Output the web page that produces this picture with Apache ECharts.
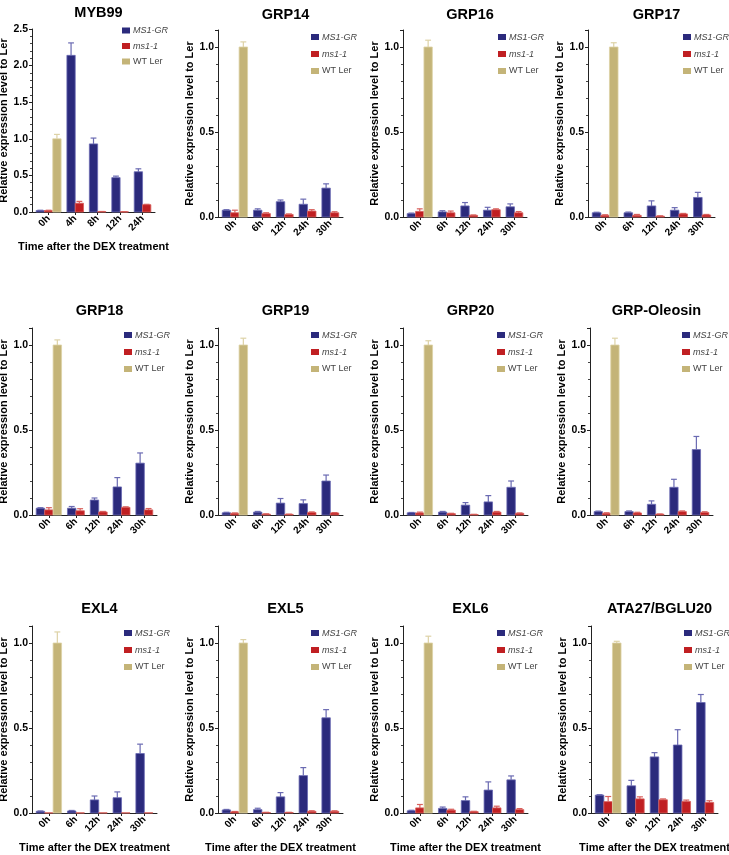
<!DOCTYPE html>
<html><head><meta charset="utf-8">
<script src="https://cdn.jsdelivr.net/npm/echarts@6/dist/echarts.min.js"></script>
<style>html,body{margin:0;padding:0;background:#fff}#c{width:729px;height:855px}</style>
</head><body><div id="c"></div>
<script>
// ---------------- DATA ----------------
const genes = ['MYB99','GRP14','GRP16','GRP17','GRP18','GRP19','GRP20','GRP-Oleosin','EXL4','EXL5','EXL6','ATA27/BGLU20'];
const timesMYB99 = ['0h','4h','8h','12h','24h'];
const timesOther = ['0h','6h','12h','24h','30h'];
const seriesNames = ['MS1-GR','ms1-1','WT Ler'];
const yTicksSmall = [0, 0.5, 1.0];
const yTicksMYB99 = [0, 0.5, 1.0, 1.5, 2.0, 2.5];

const MYB99_MS1GR    = [0.02, 2.14, 0.93, 0.47, 0.55];
const MYB99_MS1GR_sd = [0.004, 0.17, 0.08, 0.02, 0.04];
const MYB99_ms11     = [0.02, 0.12, 0.005, 0.003, 0.10];
const MYB99_ms11_sd  = [0.004, 0.025, 0.002, 0.001, 0.005];

const GRP14_MS1GR    = [0.04, 0.04, 0.09, 0.075, 0.17];
const GRP14_MS1GR_sd = [0.003, 0.008, 0.01, 0.03, 0.025];
const GRP14_ms11     = [0.025, 0.02, 0.015, 0.035, 0.025];
const GRP14_ms11_sd  = [0.015, 0.005, 0.003, 0.008, 0.006];

const GRP16_MS1GR    = [0.02, 0.03, 0.065, 0.04, 0.06];
const GRP16_MS1GR_sd = [0.003, 0.007, 0.02, 0.017, 0.017];
const GRP16_ms11     = [0.033, 0.025, 0.01, 0.043, 0.025];
const GRP16_ms11_sd  = [0.015, 0.01, 0.002, 0.005, 0.007];

const GRP17_MS1GR    = [0.025, 0.025, 0.065, 0.04, 0.115];
const GRP17_MS1GR_sd = [0.003, 0.004, 0.03, 0.015, 0.03];
const GRP17_ms11     = [0.01, 0.01, 0.005, 0.018, 0.012];
const GRP17_ms11_sd  = [0.003, 0.005, 0.002, 0.003, 0.003];

const GRP18_MS1GR    = [0.04, 0.04, 0.088, 0.165, 0.305];
const GRP18_MS1GR_sd = [0.003, 0.01, 0.012, 0.055, 0.06];
const GRP18_ms11     = [0.03, 0.025, 0.018, 0.045, 0.03];
const GRP18_ms11_sd  = [0.013, 0.012, 0.003, 0.003, 0.008];

const GRP19_MS1GR    = [0.013, 0.017, 0.07, 0.067, 0.2];
const GRP19_MS1GR_sd = [0.003, 0.004, 0.027, 0.022, 0.035];
const GRP19_ms11     = [0.01, 0.005, 0.004, 0.015, 0.012];
const GRP19_ms11_sd  = [0.002, 0.002, 0.001, 0.003, 0.002];

const GRP20_MS1GR    = [0.013, 0.017, 0.058, 0.077, 0.163];
const GRP20_MS1GR_sd = [0.002, 0.004, 0.015, 0.037, 0.037];
const GRP20_ms11     = [0.012, 0.008, 0.003, 0.017, 0.01];
const GRP20_ms11_sd  = [0.005, 0.002, 0.001, 0.004, 0.002];

const GRPOleosin_MS1GR    = [0.02, 0.02, 0.063, 0.163, 0.385];
const GRPOleosin_MS1GR_sd = [0.003, 0.004, 0.02, 0.047, 0.077];
const GRPOleosin_ms11     = [0.01, 0.012, 0.005, 0.02, 0.015];
const GRPOleosin_ms11_sd  = [0.003, 0.004, 0.001, 0.004, 0.004];

const EXL4_MS1GR    = [0.01, 0.012, 0.077, 0.09, 0.35];
const EXL4_MS1GR_sd = [0.002, 0.003, 0.023, 0.034, 0.055];
const EXL4_ms11     = [0.001, 0.001, 0.001, 0.001, 0.001];
const EXL4_ms11_sd  = [0, 0, 0, 0, 0];

const EXL5_MS1GR    = [0.018, 0.02, 0.095, 0.22, 0.56];
const EXL5_MS1GR_sd = [0.003, 0.008, 0.025, 0.047, 0.048];
const EXL5_ms11     = [0.007, 0.003, 0.003, 0.01, 0.01];
const EXL5_ms11_sd  = [0.002, 0.001, 0.001, 0.003, 0.003];

const EXL6_MS1GR    = [0.013, 0.027, 0.073, 0.135, 0.195];
const EXL6_MS1GR_sd = [0.003, 0.008, 0.022, 0.048, 0.023];
const EXL6_ms11     = [0.03, 0.017, 0.008, 0.03, 0.02];
const EXL6_ms11_sd  = [0.02, 0.005, 0.002, 0.01, 0.006];

const ATA27_MS1GR    = [0.105, 0.16, 0.33, 0.40, 0.65];
const ATA27_MS1GR_sd = [0.003, 0.032, 0.025, 0.09, 0.047];
const ATA27_ms11     = [0.067, 0.083, 0.078, 0.068, 0.062];
const ATA27_ms11_sd  = [0.03, 0.012, 0.005, 0.008, 0.01];

const WT_Ler    = [1.0, 1.0, 1.0, 1.0, 1.0, 1.0, 1.0, 1.0, 1.0, 1.0, 1.0, 1.0];
const WT_Ler_sd = [0.06, 0.03, 0.04, 0.025, 0.03, 0.04, 0.025, 0.04, 0.065, 0.02, 0.04, 0.01];

const geneData = [
  [MYB99_MS1GR, MYB99_MS1GR_sd, MYB99_ms11, MYB99_ms11_sd],
  [GRP14_MS1GR, GRP14_MS1GR_sd, GRP14_ms11, GRP14_ms11_sd],
  [GRP16_MS1GR, GRP16_MS1GR_sd, GRP16_ms11, GRP16_ms11_sd],
  [GRP17_MS1GR, GRP17_MS1GR_sd, GRP17_ms11, GRP17_ms11_sd],
  [GRP18_MS1GR, GRP18_MS1GR_sd, GRP18_ms11, GRP18_ms11_sd],
  [GRP19_MS1GR, GRP19_MS1GR_sd, GRP19_ms11, GRP19_ms11_sd],
  [GRP20_MS1GR, GRP20_MS1GR_sd, GRP20_ms11, GRP20_ms11_sd],
  [GRPOleosin_MS1GR, GRPOleosin_MS1GR_sd, GRPOleosin_ms11, GRPOleosin_ms11_sd],
  [EXL4_MS1GR, EXL4_MS1GR_sd, EXL4_ms11, EXL4_ms11_sd],
  [EXL5_MS1GR, EXL5_MS1GR_sd, EXL5_ms11, EXL5_ms11_sd],
  [EXL6_MS1GR, EXL6_MS1GR_sd, EXL6_ms11, EXL6_ms11_sd],
  [ATA27_MS1GR, ATA27_MS1GR_sd, ATA27_ms11, ATA27_ms11_sd]
];

// ---------------- LAYOUT / STYLE ----------------
const FONT = '"Liberation Sans", Arial, Helvetica, sans-serif';
const COLORS = ['#2b2a7c', '#c01f22', '#c4b478'];
const EDGE = ['#6a6ab2', '#d8605c', '#ddd2a6'];
// grid boxes [left, top, width, height]
const boxes = [
  [32, 29, 123, 183], [218, 30, 125, 187], [403, 30, 124, 187], [588, 30, 127, 187],
  [32, 328, 125, 187], [218, 328, 125, 187], [403, 328, 125, 187], [590, 328, 123, 187],
  [32, 626, 125, 187], [218, 626, 125, 187], [403, 626, 125, 187], [591, 626, 127, 187]
];
const titleTops = [0, 2, 2, 2, 298, 298, 298, 298, 596, 596, 596, 596];
const legendPos = [
  [117, 20, 4.5], [306, 26.5, 6], [493, 26.5, 6], [678, 26.5, 6],
  [119, 324.5, 6], [306, 324.5, 6], [492, 324.5, 6], [677, 324.5, 6],
  [119, 622.5, 6], [306, 622.5, 6], [492, 622.5, 6], [679, 622.5, 6]
];
const MARGIN = 0.5, GAP = 0.7;

function layoutUnits(nCats) {
  // first group has 3 bars (incl. WT Ler), others 2
  const sizes = [];
  for (let i = 0; i < nCats; i++) sizes.push(i === 0 ? 3 : 2);
  const starts = [];
  let s = MARGIN;
  sizes.forEach((n, i) => { starts.push(s); s += n + (i < nCats - 1 ? GAP : 0); });
  return { sizes, starts, total: s + MARGIN, centers: starts.map((st, i) => st + sizes[i] / 2) };
}

function renderBar(colorIdx) {
  return function (params, api) {
    const x = api.value(0), v = api.value(1), e = api.value(2);
    const p0 = api.coord([x - 0.5, 0]);
    const p1 = api.coord([x + 0.5, v]);
    const top = api.coord([x, v + e]);
    const cl = api.coord([x - 0.35, v + e]);
    const cr = api.coord([x + 0.35, v + e]);
    const children = [];
    if (e > 0) {
      children.push({ type: 'line', shape: { x1: top[0], y1: p1[1], x2: top[0], y2: top[1] },
        style: { stroke: EDGE[colorIdx], lineWidth: 1.2 } });
      children.push({ type: 'line', shape: { x1: cl[0], y1: top[1], x2: cr[0], y2: top[1] },
        style: { stroke: EDGE[colorIdx], lineWidth: 1.2 } });
    }
    children.push({ type: 'rect',
      shape: { x: p0[0], y: p1[1], width: p1[0] - p0[0], height: p0[1] - p1[1] },
      style: { fill: COLORS[colorIdx], stroke: EDGE[colorIdx], lineWidth: 0.8 } });
    return { type: 'group', children };
  };
}

const option = {
  animation: false,
  backgroundColor: '#fff',
  textStyle: { fontFamily: FONT },
  title: [], grid: [], xAxis: [], yAxis: [], legend: [], series: []
};

genes.forEach((gene, gi) => {
  const cats = gi === 0 ? timesMYB99 : timesOther;
  const L = layoutUnits(cats.length);
  const [left, top, width, height] = boxes[gi];
  const [d1, e1, d2, e2] = geneData[gi];
  const isMYB = gi === 0;
  const showXName = gi === 0 || gi >= 8;

  option.title.push({
    text: gene, left: left + width / 2, top: titleTops[gi], textAlign: 'center',
    textStyle: { fontFamily: FONT, fontWeight: 'bold', fontSize: 14.5, color: '#000' }
  });
  option.grid.push({ left, top, width, height, containLabel: false, outerBoundsMode: 'none' });

  const centerMap = {};
  L.centers.forEach((c, i) => { centerMap[c.toFixed(3)] = cats[i]; });

  option.xAxis.push({
    type: 'value', gridIndex: gi, min: 0, max: L.total,
    splitLine: { show: false },
    axisLine: { show: true, lineStyle: { color: '#222', width: 1 } },
    axisTick: { show: true, length: 3, customValues: L.centers, lineStyle: { color: '#222' } },
    axisLabel: {
      customValues: L.centers, rotate: 45, margin: 5,
      fontFamily: FONT, fontWeight: 'bold', fontSize: 10, color: '#000',
      formatter: v => centerMap[Number(v).toFixed(3)] || ''
    },
    name: showXName ? 'Time after the DEX treatment' : '',
    nameLocation: 'middle', nameGap: 29,
    nameTextStyle: { fontFamily: FONT, fontWeight: 'bold', fontSize: 11, color: '#000' }
  });

  option.yAxis.push({
    type: 'value', gridIndex: gi, min: 0, max: isMYB ? 2.5 : 1.1, interval: 0.5,
    splitLine: { show: false },
    axisLine: { show: true, lineStyle: { color: '#222', width: 1 } },
    axisTick: { show: true, length: 3, lineStyle: { color: '#222' } },
    minorTick: { show: true, splitNumber: 5, length: 2, lineStyle: { color: '#444' } },
    axisLabel: {
      showMaxLabel: isMYB, margin: 4,
      fontFamily: FONT, fontWeight: 'bold', fontSize: 10.5, color: '#000',
      formatter: v => {
        const ticks = isMYB ? yTicksMYB99 : yTicksSmall;
        return ticks.some(t => Math.abs(t - v) < 1e-6) ? Number(v).toFixed(1) : '';
      }
    },
    name: 'Relative expression level to Ler', nameLocation: 'middle', nameGap: 19,
    nameTextStyle: { fontFamily: FONT, fontWeight: 'bold', fontSize: 11, color: '#000' }
  });

  const [lx, ly, lgap] = legendPos[gi];
  option.legend.push({
    left: lx, top: ly, orient: 'vertical', itemWidth: 8, itemHeight: 6, itemGap: lgap,
    icon: 'rect', selectedMode: false,
    data: seriesNames.map((n, k) => ({ name: n, itemStyle: { color: COLORS[k] } })),
    formatter: n => n === 'WT Ler' ? n : '{i|' + n + '}',
    textStyle: {
      fontFamily: FONT, fontSize: 9, color: '#444', lineHeight: 11, padding: [0, 0, 0, -2],
      rich: { i: { fontFamily: FONT, fontSize: 9, fontStyle: 'italic', color: '#444', lineHeight: 11 } }
    }
  });

  const mk = (vals, sds, slot) => vals.map((v, i) => [L.starts[i] + slot + 0.5, v, sds[i]]);
  option.series.push({
    type: 'custom', name: 'MS1-GR', xAxisIndex: gi, yAxisIndex: gi, itemStyle: { color: COLORS[0] },
    renderItem: renderBar(0), encode: { x: 0, y: 1 }, data: mk(d1, e1, 0)
  });
  option.series.push({
    type: 'custom', name: 'ms1-1', xAxisIndex: gi, yAxisIndex: gi, itemStyle: { color: COLORS[1] },
    renderItem: renderBar(1), encode: { x: 0, y: 1 }, data: mk(d2, e2, 1)
  });
  option.series.push({
    type: 'custom', name: 'WT Ler', xAxisIndex: gi, yAxisIndex: gi, itemStyle: { color: COLORS[2] },
    renderItem: renderBar(2), encode: { x: 0, y: 1 },
    data: [[L.starts[0] + 2.5, WT_Ler[gi], WT_Ler_sd[gi]]]
  });
});

const chart = echarts.init(document.getElementById('c'), null, { renderer: 'canvas' });
chart.setOption(option);
</script>
</body></html>
